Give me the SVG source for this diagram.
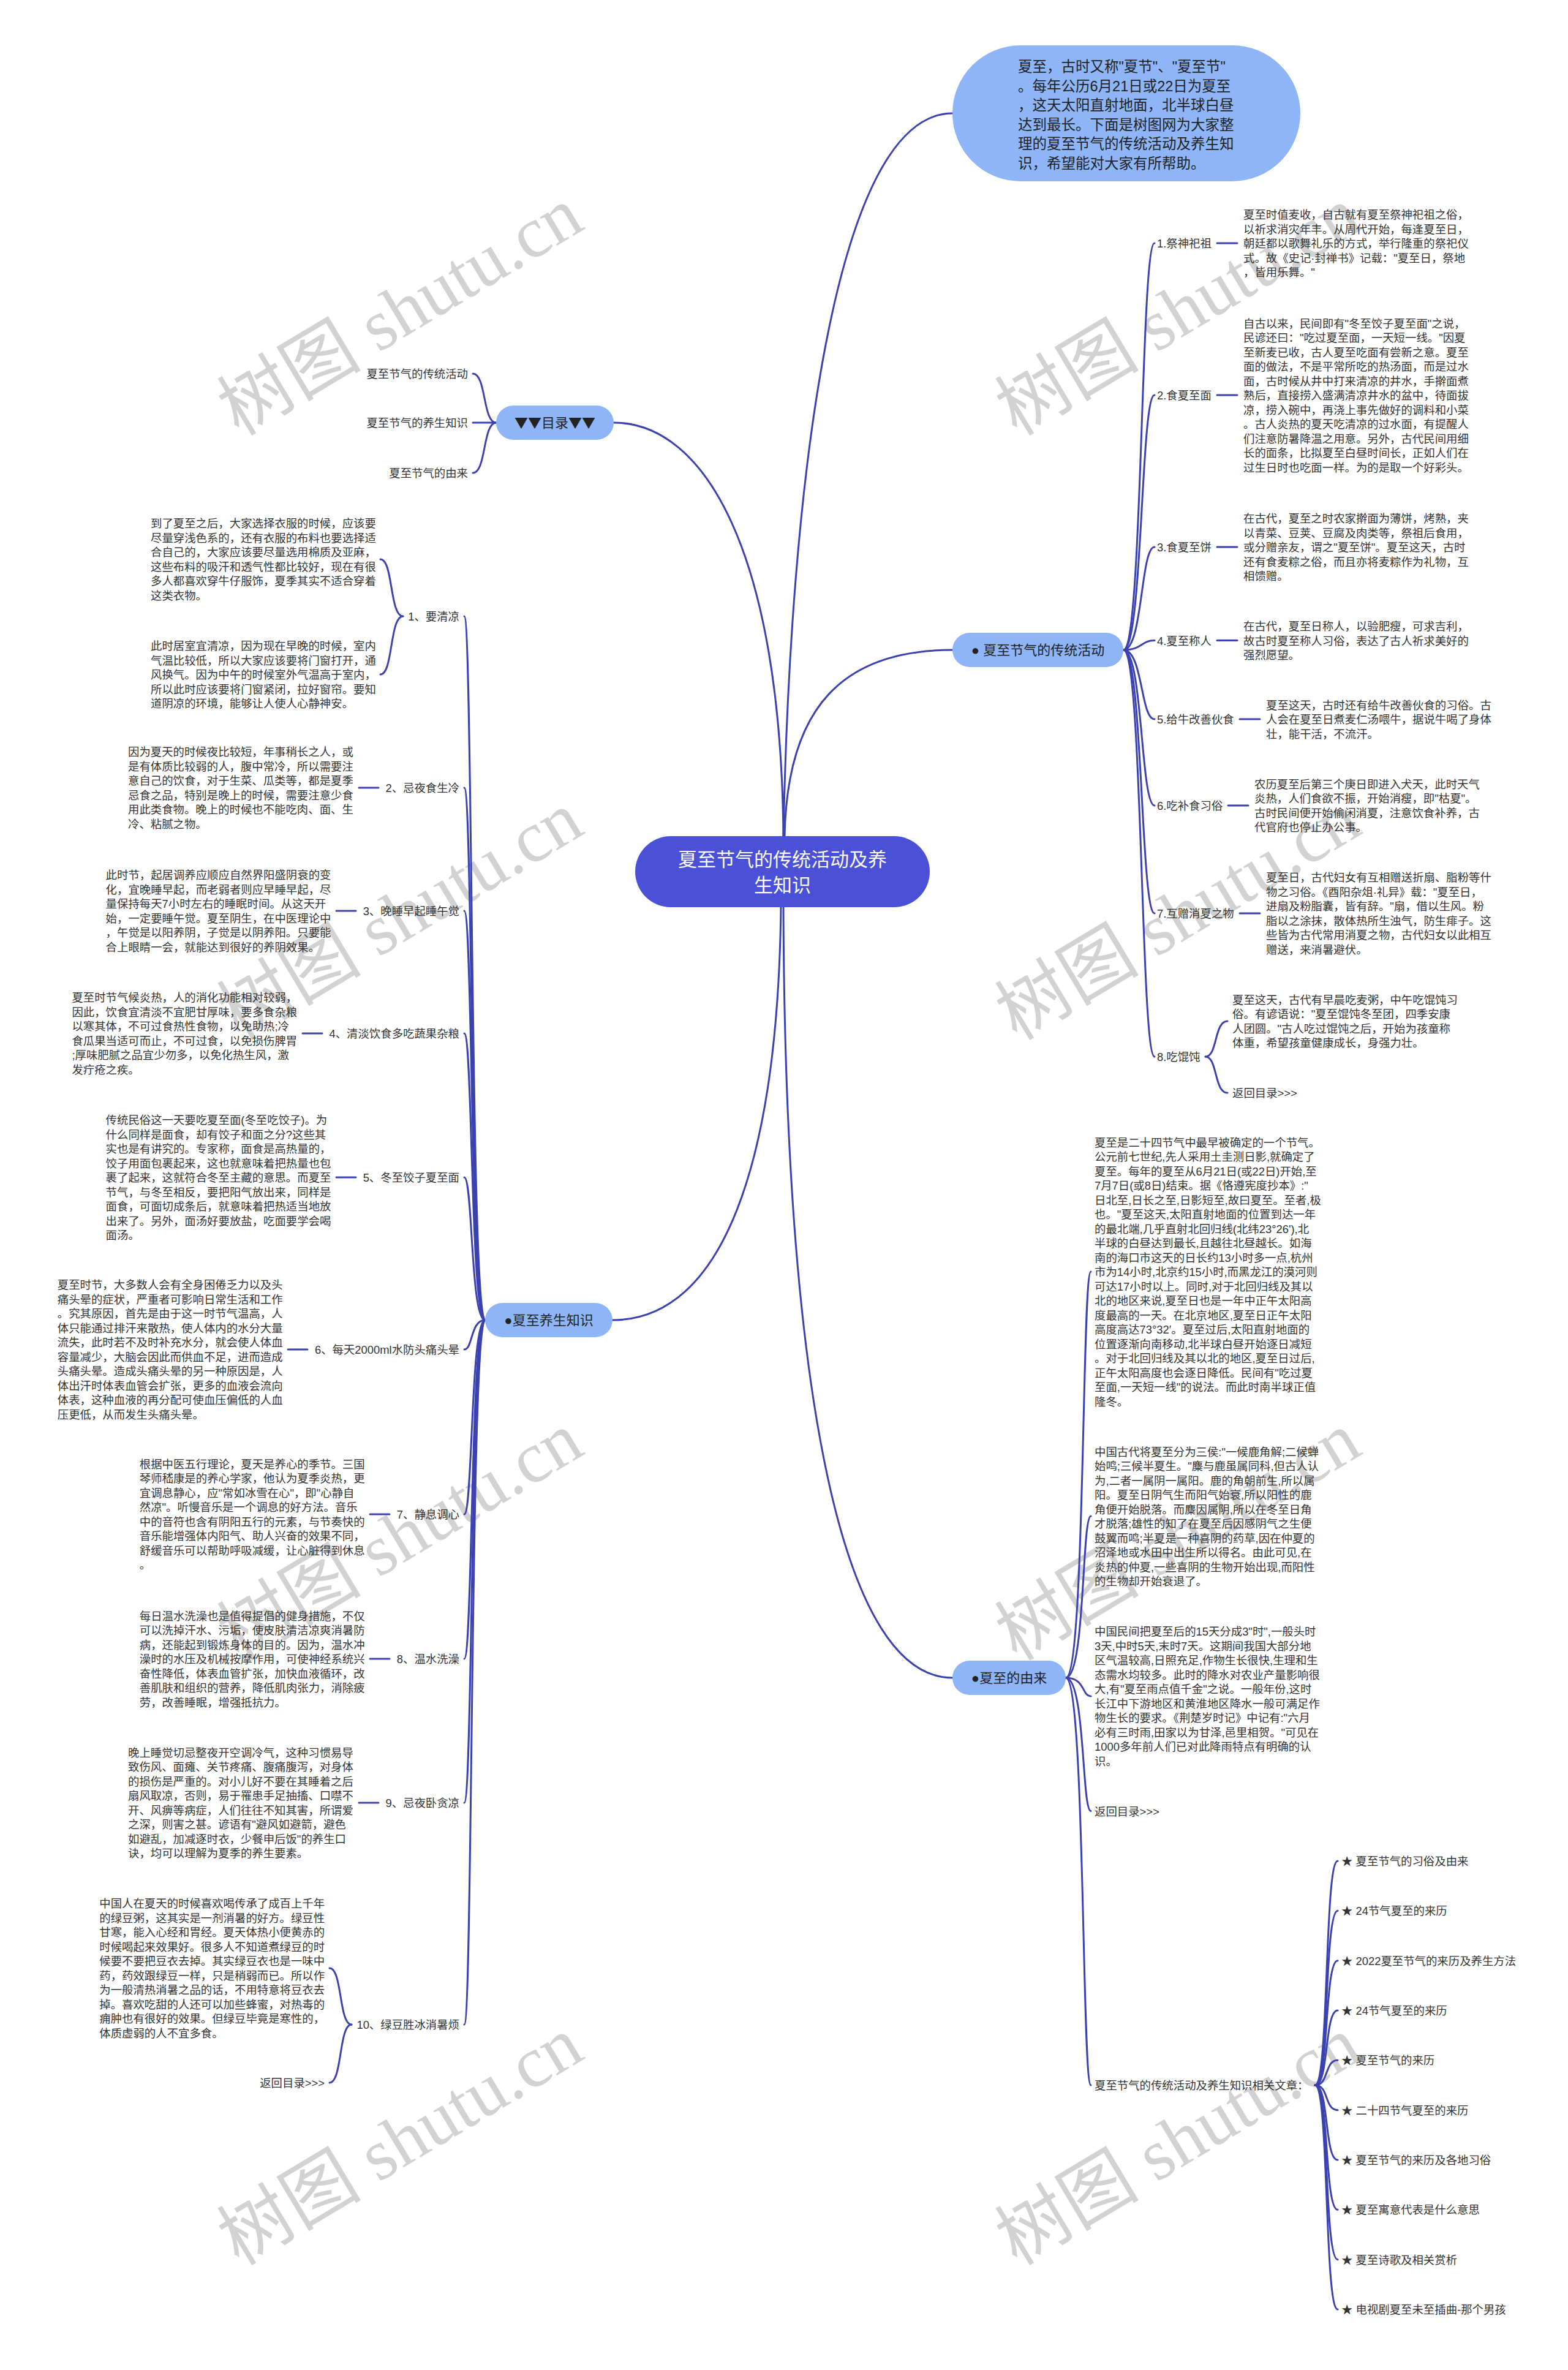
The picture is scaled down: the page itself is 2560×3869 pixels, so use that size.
<svg xmlns="http://www.w3.org/2000/svg" width="2560" height="3869" viewBox="0 0 2560 3869">
<style>
.d{font-family:"Liberation Sans","Noto Sans CJK SC",sans-serif;font-size:18.4px;fill:#333}
.e{text-anchor:end}
.c{fill:none;stroke:#3b42b0;stroke-width:3;stroke-linecap:round}
.pill{fill:#8db5f7}
.pt{font-family:"Liberation Sans","Noto Sans CJK SC",sans-serif;font-size:22px;fill:#222;text-anchor:middle}
.wm{font-family:"Liberation Serif","Noto Sans CJK SC",serif;font-size:118px;fill:#d2d2d2}
</style>
<rect width="2560" height="3869" fill="#fff"/>
<g id="watermark">
<text class="wm" x="390" y="713" transform="rotate(-31 390 713)">树图 shutu.cn</text>
<text class="wm" x="1660" y="713" transform="rotate(-31 1660 713)">树图 shutu.cn</text>
<text class="wm" x="390" y="1700" transform="rotate(-31 390 1700)">树图 shutu.cn</text>
<text class="wm" x="1660" y="1700" transform="rotate(-31 1660 1700)">树图 shutu.cn</text>
<text class="wm" x="390" y="2713" transform="rotate(-31 390 2713)">树图 shutu.cn</text>
<text class="wm" x="1660" y="2713" transform="rotate(-31 1660 2713)">树图 shutu.cn</text>
<text class="wm" x="390" y="3700" transform="rotate(-31 390 3700)">树图 shutu.cn</text>
<text class="wm" x="1660" y="3700" transform="rotate(-31 1660 3700)">树图 shutu.cn</text>
</g>
<g id="connectors">
<path class="c" d="M1279 1365 C1290 800 1360 185 1555 185"/>
<path class="c" d="M1279 1365 C1275 900 1150 690 1002 690"/>
<path class="c" d="M1281 1365 C1285 1150 1380 1061 1555 1061"/>
<path class="c" d="M1275 1481 C1270 1900 1180 2155 1000 2155"/>
<path class="c" d="M1279 1481 C1282 2300 1380 2739 1555 2739"/>
<path class="c" d="M810 690 C788 690 794 610 772 610"/>
<path class="c" d="M810 690 L772 690"/>
<path class="c" d="M810 690 C788 690 794 772 772 772"/>
<path class="c" d="M1834 1061 C1866 1061 1862 397 1885 397"/>
<path class="c" d="M1834 1061 C1866 1061 1862 645 1885 645"/>
<path class="c" d="M1834 1061 C1866 1061 1862 893 1885 893"/>
<path class="c" d="M1834 1061 C1866 1061 1862 1045.5 1885 1045.5"/>
<path class="c" d="M1834 1061 C1866 1061 1862 1174 1885 1174"/>
<path class="c" d="M1834 1061 C1866 1061 1862 1315 1885 1315"/>
<path class="c" d="M1834 1061 C1866 1061 1862 1491 1885 1491"/>
<path class="c" d="M1834 1061 C1866 1061 1862 1725 1885 1725"/>
<path class="c" d="M1987 397 H2020"/>
<path class="c" d="M1987 645 H2020"/>
<path class="c" d="M1987 893 H2020"/>
<path class="c" d="M1987 1045.5 H2020"/>
<path class="c" d="M2024 1174 H2057"/>
<path class="c" d="M2005 1315 H2038"/>
<path class="c" d="M2024 1491 H2057"/>
<path class="c" d="M1968 1725 C1988 1725 1982 1667 2004 1667"/>
<path class="c" d="M1968 1725 C1988 1725 1982 1784 2004 1784"/>
<path class="c" d="M792 2155 C768 2155 772 1006 758 1006"/>
<path class="c" d="M792 2155 C768 2155 772 1286 758 1286"/>
<path class="c" d="M792 2155 C768 2155 772 1487 758 1487"/>
<path class="c" d="M792 2155 C768 2155 772 1687 758 1687"/>
<path class="c" d="M792 2155 C768 2155 772 1922 758 1922"/>
<path class="c" d="M792 2155 C768 2155 772 2203 758 2203"/>
<path class="c" d="M792 2155 C768 2155 772 2472 758 2472"/>
<path class="c" d="M792 2155 C768 2155 772 2708 758 2708"/>
<path class="c" d="M792 2155 C768 2155 772 2943 758 2943"/>
<path class="c" d="M792 2155 C768 2155 772 3305 758 3305"/>
<path class="c" d="M658 1006 C636 1006 642 913 621 913"/>
<path class="c" d="M658 1006 C636 1006 642 1101 621 1101"/>
<path class="c" d="M618 1286 H586"/>
<path class="c" d="M581 1487 H549"/>
<path class="c" d="M526 1687 H494"/>
<path class="c" d="M581 1922 H549"/>
<path class="c" d="M502 2203 H470"/>
<path class="c" d="M636 2472 H604"/>
<path class="c" d="M636 2708 H604"/>
<path class="c" d="M618 2943 H586"/>
<path class="c" d="M574 3305 C553 3305 559 3213 538 3213"/>
<path class="c" d="M574 3305 C553 3305 559 3400 538 3400"/>
<path class="c" d="M1740 2739 C1772 2739 1766 2076 1781 2076"/>
<path class="c" d="M1740 2739 C1772 2739 1766 2475 1781 2475"/>
<path class="c" d="M1740 2739 C1772 2739 1766 2769 1781 2769"/>
<path class="c" d="M1740 2739 C1772 2739 1766 2956.5 1781 2956.5"/>
<path class="c" d="M1740 2739 C1772 2739 1766 3404 1781 3404"/>
<path class="c" d="M2147 3404 C2170 3404 2162 3038 2184 3038"/>
<path class="c" d="M2147 3404 C2170 3404 2162 3119.3 2184 3119.3"/>
<path class="c" d="M2147 3404 C2170 3404 2162 3200.7 2184 3200.7"/>
<path class="c" d="M2147 3404 C2170 3404 2162 3282 2184 3282"/>
<path class="c" d="M2147 3404 C2170 3404 2162 3363.3 2184 3363.3"/>
<path class="c" d="M2147 3404 C2170 3404 2162 3444.7 2184 3444.7"/>
<path class="c" d="M2147 3404 C2170 3404 2162 3526 2184 3526"/>
<path class="c" d="M2147 3404 C2170 3404 2162 3607.3 2184 3607.3"/>
<path class="c" d="M2147 3404 C2170 3404 2162 3688.7 2184 3688.7"/>
<path class="c" d="M2147 3404 C2170 3404 2162 3770 2184 3770"/>
</g>
<g id="center">
<rect x="1037" y="1365" width="481" height="116" rx="58" fill="#4b51d6"/>
<text x="1277.5" y="1414" font-family="Liberation Sans,Noto Sans CJK SC,sans-serif" font-size="31" fill="#fff" text-anchor="middle">夏至节气的传统活动及养</text>
<text x="1277.5" y="1456" font-family="Liberation Sans,Noto Sans CJK SC,sans-serif" font-size="31" fill="#fff" text-anchor="middle">生知识</text>
</g>
<g id="intro">
<rect class="pill" x="1555" y="74" width="568" height="222" rx="111"/>
<text font-family="Liberation Sans,Noto Sans CJK SC,sans-serif" font-size="23.5" fill="#222">
<tspan x="1662" y="117">夏至，古时又称"夏节"、"夏至节"</tspan>
<tspan x="1662" y="148.5">。每年公历6月21日或22日为夏至</tspan>
<tspan x="1662" y="180">，这天太阳直射地面，北半球白昼</tspan>
<tspan x="1662" y="211.5">达到最长。下面是树图网为大家整</tspan>
<tspan x="1662" y="243">理的夏至节气的传统活动及养生知</tspan>
<tspan x="1662" y="274.5">识，希望能对大家有所帮助。</tspan>
</text>
</g>
<g id="toc">
<rect class="pill" x="810" y="662" width="192" height="56" rx="28"/>
<text x="906" y="698.4" font-family="Noto Sans CJK SC,sans-serif" font-size="22" fill="#222" text-anchor="middle">▼▼目录▼▼</text>
</g>
<g id="toc-items">
<text class="d e" x="764" y="617">夏至节气的传统活动</text>
<text class="d e" x="764" y="697">夏至节气的养生知识</text>
<text class="d e" x="764" y="779">夏至节气的由来</text>
</g>
<g id="activities">
<rect class="pill" x="1555" y="1033" width="279" height="56" rx="28"/>
<text class="pt" x="1694.5" y="1069.4">● 夏至节气的传统活动</text>
</g>
<g id="act-1">
<text class="d" x="1889" y="404">1.祭神祀祖</text>
<text class="d"><tspan x="2030" y="357">夏至时值麦收，自古就有夏至祭神祀祖之俗，</tspan><tspan x="2030" dy="23.5">以祈求消灾年丰。从周代开始，每逢夏至日，</tspan><tspan x="2030" dy="23.5">朝廷都以歌舞礼乐的方式，举行隆重的祭祀仪</tspan><tspan x="2030" dy="23.5">式。故《史记·封禅书》记载："夏至日，祭地</tspan><tspan x="2030" dy="23.5">，皆用乐舞。"</tspan></text>
</g>
<g id="act-2">
<text class="d" x="1889" y="652">2.食夏至面</text>
<text class="d"><tspan x="2030" y="534.5">自古以来，民间即有"冬至饺子夏至面"之说，</tspan><tspan x="2030" dy="23.5">民谚还曰："吃过夏至面，一天短一线。"因夏</tspan><tspan x="2030" dy="23.5">至新麦已收，古人夏至吃面有尝新之意。夏至</tspan><tspan x="2030" dy="23.5">面的做法，不是平常所吃的热汤面，而是过水</tspan><tspan x="2030" dy="23.5">面，古时候从井中打来清凉的井水，手擀面煮</tspan><tspan x="2030" dy="23.5">熟后，直接捞入盛满清凉井水的盆中，待面拔</tspan><tspan x="2030" dy="23.5">凉，捞入碗中，再浇上事先做好的调料和小菜</tspan><tspan x="2030" dy="23.5">。古人炎热的夏天吃清凉的过水面，有提醒人</tspan><tspan x="2030" dy="23.5">们注意防暑降温之用意。另外，古代民间用细</tspan><tspan x="2030" dy="23.5">长的面条，比拟夏至白昼时间长，正如人们在</tspan><tspan x="2030" dy="23.5">过生日时也吃面一样。为的是取一个好彩头。</tspan></text>
</g>
<g id="act-3">
<text class="d" x="1889" y="900">3.食夏至饼</text>
<text class="d"><tspan x="2030" y="853">在古代，夏至之时农家擀面为薄饼，烤熟，夹</tspan><tspan x="2030" dy="23.5">以青菜、豆荚、豆腐及肉类等，祭祖后食用，</tspan><tspan x="2030" dy="23.5">或分赠亲友，谓之"夏至饼"。夏至这天，古时</tspan><tspan x="2030" dy="23.5">还有食麦粽之俗，而且亦将麦粽作为礼物，互</tspan><tspan x="2030" dy="23.5">相馈赠。</tspan></text>
</g>
<g id="act-4">
<text class="d" x="1889" y="1052.5">4.夏至称人</text>
<text class="d"><tspan x="2030" y="1029">在古代，夏至日称人，以验肥瘦，可求吉利，</tspan><tspan x="2030" dy="23.5">故古时夏至称人习俗，表达了古人祈求美好的</tspan><tspan x="2030" dy="23.5">强烈愿望。</tspan></text>
</g>
<g id="act-5">
<text class="d" x="1889" y="1181">5.给牛改善伙食</text>
<text class="d"><tspan x="2067" y="1157.5">夏至这天，古时还有给牛改善伙食的习俗。古</tspan><tspan x="2067" dy="23.5">人会在夏至日煮麦仁汤喂牛，据说牛喝了身体</tspan><tspan x="2067" dy="23.5">壮，能干活，不流汗。</tspan></text>
</g>
<g id="act-6">
<text class="d" x="1889" y="1322">6.吃补食习俗</text>
<text class="d"><tspan x="2048" y="1286.75">农历夏至后第三个庚日即进入犬天，此时天气</tspan><tspan x="2048" dy="23.5">炎热，人们食欲不振，开始消瘦，即"枯夏"。</tspan><tspan x="2048" dy="23.5">古时民间便开始偷闲消夏，注意饮食补养，古</tspan><tspan x="2048" dy="23.5">代官府也停止办公事。</tspan></text>
</g>
<g id="act-7">
<text class="d" x="1889" y="1498">7.互赠消夏之物</text>
<text class="d"><tspan x="2067" y="1439.25">夏至日，古代妇女有互相赠送折扇、脂粉等什</tspan><tspan x="2067" dy="23.5">物之习俗。《酉阳杂俎·礼异》载："夏至日，</tspan><tspan x="2067" dy="23.5">进扇及粉脂囊，皆有辞。"扇，借以生风。粉</tspan><tspan x="2067" dy="23.5">脂以之涂抹，散体热所生浊气，防生痱子。这</tspan><tspan x="2067" dy="23.5">些皆为古代常用消夏之物，古代妇女以此相互</tspan><tspan x="2067" dy="23.5">赠送，来消暑避伏。</tspan></text>
</g>
<g id="act-8">
<text class="d" x="1889" y="1732">8.吃馄饨</text>
<text class="d"><tspan x="2012" y="1638.75">夏至这天，古代有早晨吃麦粥，中午吃馄饨习</tspan><tspan x="2012" dy="23.5">俗。有谚语说："夏至馄饨冬至团，四季安康</tspan><tspan x="2012" dy="23.5">人团圆。"古人吃过馄饨之后，开始为孩童称</tspan><tspan x="2012" dy="23.5">体重，希望孩童健康成长，身强力壮。</tspan></text>
<text class="d" x="2012" y="1791">返回目录&gt;&gt;&gt;</text>
</g>
<g id="health">
<rect class="pill" x="792" y="2127" width="208" height="56" rx="28"/>
<text class="pt" x="896" y="2163.4">●夏至养生知识</text>
</g>
<g id="health-1">
<text class="d e" x="750" y="1013">1、要清凉</text>
<text class="d"><tspan x="246" y="861.25">到了夏至之后，大家选择衣服的时候，应该要</tspan><tspan x="246" dy="23.5">尽量穿浅色系的，还有衣服的布料也要选择适</tspan><tspan x="246" dy="23.5">合自己的，大家应该要尽量选用棉质及亚麻，</tspan><tspan x="246" dy="23.5">这些布料的吸汗和透气性都比较好，现在有很</tspan><tspan x="246" dy="23.5">多人都喜欢穿牛仔服饰，夏季其实不适合穿着</tspan><tspan x="246" dy="23.5">这类衣物。</tspan></text>
<text class="d"><tspan x="246" y="1061">此时居室宜清凉，因为现在早晚的时候，室内</tspan><tspan x="246" dy="23.5">气温比较低，所以大家应该要将门窗打开，通</tspan><tspan x="246" dy="23.5">风换气。因为中午的时候室外气温高于室内，</tspan><tspan x="246" dy="23.5">所以此时应该要将门窗紧闭，拉好窗帘。要知</tspan><tspan x="246" dy="23.5">道阴凉的环境，能够让人使人心静神安。</tspan></text>
</g>
<g id="health-2">
<text class="d e" x="750" y="1293">2、忌夜食生冷</text>
<text class="d"><tspan x="209" y="1234.25">因为夏天的时候夜比较短，年事稍长之人，或</tspan><tspan x="209" dy="23.5">是有体质比较弱的人，腹中常冷，所以需要注</tspan><tspan x="209" dy="23.5">意自己的饮食，对于生菜、瓜类等，都是夏季</tspan><tspan x="209" dy="23.5">忌食之品，特别是晚上的时候，需要注意少食</tspan><tspan x="209" dy="23.5">用此类食物。晚上的时候也不能吃肉、面、生</tspan><tspan x="209" dy="23.5">冷、粘腻之物。</tspan></text>
</g>
<g id="health-3">
<text class="d e" x="750" y="1494">3、晚睡早起睡午觉</text>
<text class="d"><tspan x="172.6" y="1435.25">此时节，起居调养应顺应自然界阳盛阴衰的变</tspan><tspan x="172.6" dy="23.5">化，宜晚睡早起，而老弱者则应早睡早起，尽</tspan><tspan x="172.6" dy="23.5">量保持每天7小时左右的睡眠时间。从这天开</tspan><tspan x="172.6" dy="23.5">始，一定要睡午觉。夏至阴生，在中医理论中</tspan><tspan x="172.6" dy="23.5">，午觉是以阳养阴，子觉是以阴养阳。只要能</tspan><tspan x="172.6" dy="23.5">合上眼睛一会，就能达到很好的养阴效果。</tspan></text>
</g>
<g id="health-4">
<text class="d e" x="750" y="1694">4、清淡饮食多吃蔬果杂粮</text>
<text class="d"><tspan x="117.4" y="1635.25">夏至时节气候炎热，人的消化功能相对较弱，</tspan><tspan x="117.4" dy="23.5">因此，饮食宜清淡不宜肥甘厚味，要多食杂粮</tspan><tspan x="117.4" dy="23.5">以寒其体，不可过食热性食物，以免助热;冷</tspan><tspan x="117.4" dy="23.5">食瓜果当适可而止，不可过食，以免损伤脾胃</tspan><tspan x="117.4" dy="23.5">;厚味肥腻之品宜少勿多，以免化热生风，激</tspan><tspan x="117.4" dy="23.5">发疔疮之疾。</tspan></text>
</g>
<g id="health-5">
<text class="d e" x="750" y="1929">5、冬至饺子夏至面</text>
<text class="d"><tspan x="172.6" y="1835">传统民俗这一天要吃夏至面(冬至吃饺子)。为</tspan><tspan x="172.6" dy="23.5">什么同样是面食，却有饺子和面之分?这些其</tspan><tspan x="172.6" dy="23.5">实也是有讲究的。专家称，面食是高热量的，</tspan><tspan x="172.6" dy="23.5">饺子用面包裹起来，这也就意味着把热量也包</tspan><tspan x="172.6" dy="23.5">裹了起来，这就符合冬至主藏的意思。而夏至</tspan><tspan x="172.6" dy="23.5">节气，与冬至相反，要把阳气放出来，同样是</tspan><tspan x="172.6" dy="23.5">面食，可面切成条后，就意味着把热适当地放</tspan><tspan x="172.6" dy="23.5">出来了。另外，面汤好要放盐，吃面要学会喝</tspan><tspan x="172.6" dy="23.5">面汤。</tspan></text>
</g>
<g id="health-6">
<text class="d e" x="750" y="2210">6、每天2000ml水防头痛头晕</text>
<text class="d"><tspan x="93.8" y="2104.25">夏至时节，大多数人会有全身困倦乏力以及头</tspan><tspan x="93.8" dy="23.5">痛头晕的症状，严重者可影响日常生活和工作</tspan><tspan x="93.8" dy="23.5">。究其原因，首先是由于这一时节气温高，人</tspan><tspan x="93.8" dy="23.5">体只能通过排汗来散热，使人体内的水分大量</tspan><tspan x="93.8" dy="23.5">流失，此时若不及时补充水分，就会使人体血</tspan><tspan x="93.8" dy="23.5">容量减少，大脑会因此而供血不足，进而造成</tspan><tspan x="93.8" dy="23.5">头痛头晕。造成头痛头晕的另一种原因是，人</tspan><tspan x="93.8" dy="23.5">体出汗时体表血管会扩张，更多的血液会流向</tspan><tspan x="93.8" dy="23.5">体表，这种血液的再分配可使血压偏低的人血</tspan><tspan x="93.8" dy="23.5">压更低，从而发生头痛头晕。</tspan></text>
</g>
<g id="health-7">
<text class="d e" x="750" y="2479">7、静息调心</text>
<text class="d"><tspan x="227.8" y="2396.75">根据中医五行理论，夏天是养心的季节。三国</tspan><tspan x="227.8" dy="23.5">琴师嵇康是的养心学家，他认为夏季炎热，更</tspan><tspan x="227.8" dy="23.5">宜调息静心，应"常如冰雪在心"，即"心静自</tspan><tspan x="227.8" dy="23.5">然凉"。听慢音乐是一个调息的好方法。音乐</tspan><tspan x="227.8" dy="23.5">中的音符也含有阴阳五行的元素，与节奏快的</tspan><tspan x="227.8" dy="23.5">音乐能增强体内阳气、助人兴奋的效果不同，</tspan><tspan x="227.8" dy="23.5">舒缓音乐可以帮助呼吸减缓，让心脏得到休息</tspan><tspan x="227.8" dy="23.5">。</tspan></text>
</g>
<g id="health-8">
<text class="d e" x="750" y="2715">8、温水洗澡</text>
<text class="d"><tspan x="227.8" y="2644.5">每日温水洗澡也是值得提倡的健身措施，不仅</tspan><tspan x="227.8" dy="23.5">可以洗掉汗水、污垢，使皮肤清洁凉爽消暑防</tspan><tspan x="227.8" dy="23.5">病，还能起到锻炼身体的目的。因为，温水冲</tspan><tspan x="227.8" dy="23.5">澡时的水压及机械按摩作用，可使神经系统兴</tspan><tspan x="227.8" dy="23.5">奋性降低，体表血管扩张，加快血液循环，改</tspan><tspan x="227.8" dy="23.5">善肌肤和组织的营养，降低肌肉张力，消除疲</tspan><tspan x="227.8" dy="23.5">劳，改善睡眠，增强抵抗力。</tspan></text>
</g>
<g id="health-9">
<text class="d e" x="750" y="2950">9、忌夜卧贪凉</text>
<text class="d"><tspan x="209" y="2867.75">晚上睡觉切忌整夜开空调冷气，这种习惯易导</tspan><tspan x="209" dy="23.5">致伤风、面瘫、关节疼痛、腹痛腹泻，对身体</tspan><tspan x="209" dy="23.5">的损伤是严重的。对小儿好不要在其睡着之后</tspan><tspan x="209" dy="23.5">扇风取凉，否则，易于罹患手足抽搐、口噤不</tspan><tspan x="209" dy="23.5">开、风痹等病症，人们往往不知其害，所谓爱</tspan><tspan x="209" dy="23.5">之深，则害之甚。谚语有"避风如避箭，避色</tspan><tspan x="209" dy="23.5">如避乱，加减逐时衣，少餐申后饭"的养生口</tspan><tspan x="209" dy="23.5">诀，均可以理解为夏季的养生要素。</tspan></text>
</g>
<g id="health-10">
<text class="d e" x="750" y="3312">10、绿豆胜冰消暑烦</text>
<text class="d"><tspan x="162.3" y="3114.25">中国人在夏天的时候喜欢喝传承了成百上千年</tspan><tspan x="162.3" dy="23.5">的绿豆粥，这其实是一剂消暑的好方。绿豆性</tspan><tspan x="162.3" dy="23.5">甘寒，能入心经和胃经。夏天体热小便黄赤的</tspan><tspan x="162.3" dy="23.5">时候喝起来效果好。很多人不知道煮绿豆的时</tspan><tspan x="162.3" dy="23.5">候要不要把豆衣去掉。其实绿豆衣也是一味中</tspan><tspan x="162.3" dy="23.5">药，药效跟绿豆一样，只是稍弱而已。所以作</tspan><tspan x="162.3" dy="23.5">为一般清热消暑之品的话，不用特意将豆衣去</tspan><tspan x="162.3" dy="23.5">掉。喜欢吃甜的人还可以加些蜂蜜，对热毒的</tspan><tspan x="162.3" dy="23.5">痈肿也有很好的效果。但绿豆毕竟是寒性的，</tspan><tspan x="162.3" dy="23.5">体质虚弱的人不宜多食。</tspan></text>
<text class="d e" x="530" y="3407">返回目录&gt;&gt;&gt;</text>
</g>
<g id="origin">
<rect class="pill" x="1555" y="2711" width="185" height="56" rx="28"/>
<text class="pt" x="1647.5" y="2747.4">●夏至的由来</text>
</g>
<g id="origin-1">
<text class="d"><tspan x="1787" y="1871.5">夏至是二十四节气中最早被确定的一个节气。</tspan><tspan x="1787" dy="23.5">公元前七世纪,先人采用土圭测日影,就确定了</tspan><tspan x="1787" dy="23.5">夏至。每年的夏至从6月21日(或22日)开始,至</tspan><tspan x="1787" dy="23.5">7月7日(或8日)结束。据《恪遵宪度抄本》:"</tspan><tspan x="1787" dy="23.5">日北至,日长之至,日影短至,故曰夏至。至者,极</tspan><tspan x="1787" dy="23.5">也。"夏至这天,太阳直射地面的位置到达一年</tspan><tspan x="1787" dy="23.5">的最北端,几乎直射北回归线(北纬23°26'),北</tspan><tspan x="1787" dy="23.5">半球的白昼达到最长,且越往北昼越长。如海</tspan><tspan x="1787" dy="23.5">南的海口市这天的日长约13小时多一点,杭州</tspan><tspan x="1787" dy="23.5">市为14小时,北京约15小时,而黑龙江的漠河则</tspan><tspan x="1787" dy="23.5">可达17小时以上。同时,对于北回归线及其以</tspan><tspan x="1787" dy="23.5">北的地区来说,夏至日也是一年中正午太阳高</tspan><tspan x="1787" dy="23.5">度最高的一天。在北京地区,夏至日正午太阳</tspan><tspan x="1787" dy="23.5">高度高达73°32′。夏至过后,太阳直射地面的</tspan><tspan x="1787" dy="23.5">位置逐渐向南移动,北半球白昼开始逐日减短</tspan><tspan x="1787" dy="23.5">。对于北回归线及其以北的地区,夏至日过后,</tspan><tspan x="1787" dy="23.5">正午太阳高度也会逐日降低。民间有"吃过夏</tspan><tspan x="1787" dy="23.5">至面,一天短一线"的说法。而此时南半球正值</tspan><tspan x="1787" dy="23.5">隆冬。</tspan></text>
</g>
<g id="origin-2">
<text class="d"><tspan x="1787" y="2376.5">中国古代将夏至分为三侯:"一候鹿角解;二候蝉</tspan><tspan x="1787" dy="23.5">始鸣;三候半夏生。"麋与鹿虽属同科,但古人认</tspan><tspan x="1787" dy="23.5">为,二者一属阴一属阳。鹿的角朝前生,所以属</tspan><tspan x="1787" dy="23.5">阳。夏至日阴气生而阳气始衰,所以阳性的鹿</tspan><tspan x="1787" dy="23.5">角便开始脱落。而麋因属阴,所以在冬至日角</tspan><tspan x="1787" dy="23.5">才脱落;雄性的知了在夏至后因感阴气之生便</tspan><tspan x="1787" dy="23.5">鼓翼而鸣;半夏是一种喜阴的药草,因在仲夏的</tspan><tspan x="1787" dy="23.5">沼泽地或水田中出生所以得名。由此可见,在</tspan><tspan x="1787" dy="23.5">炎热的仲夏,一些喜阴的生物开始出现,而阳性</tspan><tspan x="1787" dy="23.5">的生物却开始衰退了。</tspan></text>
</g>
<g id="origin-3">
<text class="d"><tspan x="1787" y="2670">中国民间把夏至后的15天分成3"时",一般头时</tspan><tspan x="1787" dy="23.5">3天,中时5天,末时7天。这期间我国大部分地</tspan><tspan x="1787" dy="23.5">区气温较高,日照充足,作物生长很快,生理和生</tspan><tspan x="1787" dy="23.5">态需水均较多。此时的降水对农业产量影响很</tspan><tspan x="1787" dy="23.5">大,有"夏至雨点值千金"之说。一般年份,这时</tspan><tspan x="1787" dy="23.5">长江中下游地区和黄淮地区降水一般可满足作</tspan><tspan x="1787" dy="23.5">物生长的要求。《荆楚岁时记》中记有:"六月</tspan><tspan x="1787" dy="23.5">必有三时雨,田家以为甘泽,邑里相贺。"可见在</tspan><tspan x="1787" dy="23.5">1000多年前人们已对此降雨特点有明确的认</tspan><tspan x="1787" dy="23.5">识。</tspan></text>
</g>
<g id="origin-back">
<text class="d" x="1787" y="2963.5">返回目录&gt;&gt;&gt;</text>
</g>
<g id="related">
<text class="d" x="1787" y="3411">夏至节气的传统活动及养生知识相关文章：</text>
</g>
<g id="related-items">
<text class="d" x="2190" y="3045">★ 夏至节气的习俗及由来</text>
<text class="d" x="2190" y="3126.3">★ 24节气夏至的来历</text>
<text class="d" x="2190" y="3207.7">★ 2022夏至节气的来历及养生方法</text>
<text class="d" x="2190" y="3289">★ 24节气夏至的来历</text>
<text class="d" x="2190" y="3370.3">★ 夏至节气的来历</text>
<text class="d" x="2190" y="3451.7">★ 二十四节气夏至的来历</text>
<text class="d" x="2190" y="3533">★ 夏至节气的来历及各地习俗</text>
<text class="d" x="2190" y="3614.3">★ 夏至寓意代表是什么意思</text>
<text class="d" x="2190" y="3695.7">★ 夏至诗歌及相关赏析</text>
<text class="d" x="2190" y="3777">★ 电视剧夏至未至插曲-那个男孩</text>
</g>
</svg>
